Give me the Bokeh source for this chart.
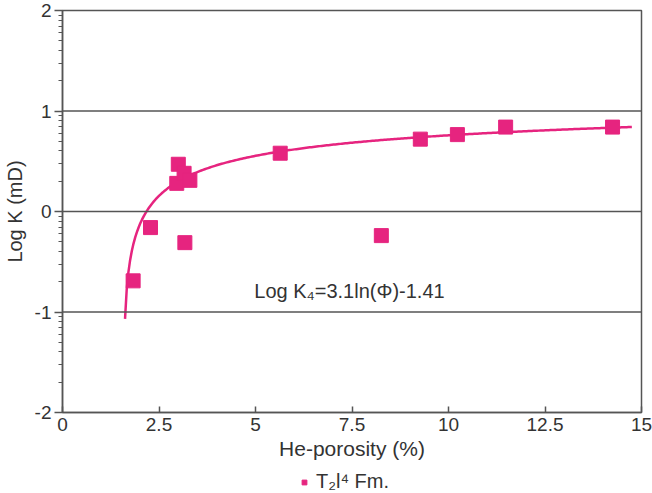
import numpy as np
from bokeh.plotting import figure
from bokeh.layouts import column
from bokeh.models import (Range1d, FixedTicker, Legend, LegendItem, Span, Label,
                          LinearAxis, ColumnDataSource)
from bokeh.embed import file_html
from bokeh.resources import INLINE

# data
porosity = [1.83, 2.28, 3.00, 2.96, 3.15, 3.30, 3.17, 5.64, 8.26, 9.27, 10.23, 11.48, 14.25]
log_k = [-0.69, -0.16, 0.47, 0.28, 0.38, 0.31, -0.31, 0.58, -0.24, 0.72, 0.765, 0.84, 0.84]
x_ticks = [0, 2.5, 5, 7.5, 10, 12.5, 15]
y_ticks = [-2, -1, 0, 1, 2]
y_tick_labels = ["-2", "-1", "0", "1", "2"]
x_tick_labels = ["0", "2.5", "5", "7.5", "10", "12.5", "15"]
grid_levels = [-1, 0, 1]
fit_a, fit_b = 3.1, -1.41   # K = a ln(phi) + b, plotted as log K
fit_x_start, fit_x_end = 1.62, 14.75
series_name = "T\u2082l\u2074 Fm."

COL = "#E6247F"
TXT = "#333333"
AX = "#555555"
FONT = "Liberation Sans"

FH = 402
TOP = 10
BOT = 58
LEFT = 62
p = figure(frame_width=579, frame_height=FH, output_backend="svg", toolbar_location=None,
           x_range=Range1d(0, 15), y_range=Range1d(-2, 2),
           min_border_left=LEFT, min_border_right=11, min_border_top=TOP,
           min_border_bottom=BOT,
           x_axis_location=None, y_axis_location=None)
p.grid.visible = False
p.outline_line_color = AX
p.outline_line_width = 1.5
p.background_fill_color = "white"
p.border_fill_color = "white"

# y minor ticks as in a log decade
minor_y = []
for d in [-2, -1, 0, 1]:
    minor_y += [d + np.log10(k) for k in range(2, 10)]

yax = LinearAxis(ticker=FixedTicker(ticks=y_ticks, minor_ticks=minor_y),
                 axis_label="Log K (mD)")
yax.major_label_overrides = {t: s for t, s in zip(y_ticks, y_tick_labels)}
yax.axis_line_color = AX
yax.axis_line_width = 1.5
yax.major_tick_line_color = AX
yax.minor_tick_line_color = AX
yax.major_tick_line_width = 1.5
yax.major_tick_out = 8
yax.major_tick_in = 0
yax.minor_tick_out = 4
yax.minor_tick_in = 0
yax.major_label_text_font = FONT
yax.major_label_text_font_size = "19px"
yax.major_label_text_color = TXT
yax.axis_label_text_font = FONT
yax.axis_label_text_font_size = "20px"
yax.axis_label_text_font_style = "normal"
yax.axis_label_text_color = TXT
yax.axis_label_standoff = 6
yax.major_label_standoff = 3
p.add_layout(yax, "left")

xax = LinearAxis(ticker=FixedTicker(ticks=x_ticks, minor_ticks=[]),
                 axis_label="He-porosity (%)")
xax.major_label_overrides = {t: s for t, s in zip(x_ticks, x_tick_labels)}
xax.axis_line_color = AX
xax.axis_line_width = 1.5
xax.major_tick_line_color = AX
xax.major_tick_line_width = 1.5
xax.major_tick_out = 0
xax.major_tick_in = 6
xax.major_label_text_font = FONT
xax.major_label_text_font_size = "19px"
xax.major_label_text_color = TXT
xax.axis_label_text_font = FONT
xax.axis_label_text_font_size = "21px"
xax.axis_label_text_font_style = "normal"
xax.axis_label_text_color = TXT
xax.axis_label_standoff = 3
xax.major_label_standoff = 5
p.add_layout(xax, "below")

for g in grid_levels:
    p.add_layout(Span(location=g, dimension="width", line_color=AX, line_width=1.5))

xs = np.linspace(fit_x_start, fit_x_end, 300)
ys = np.log10(fit_a * np.log(xs) + fit_b)
p.line(xs, ys, line_color=COL, line_width=2.5)

src = ColumnDataSource(dict(x=porosity, y=log_k))
p.scatter("x", "y", source=src, marker="square", size=14, fill_color=COL, line_color=COL)

p.add_layout(Label(x=287, y=FH - (290 - TOP), x_units="screen", y_units="screen",
                   text="Log K\u2084=3.1ln(\u03a6)-1.41", text_font=FONT,
                   text_font_size="20px", text_color=TXT, text_align="center",
                   text_baseline="middle"))

# legend row below the axis title
LH = 493 - (TOP + FH + BOT)
lf = figure(width=652, height=LH, output_backend="svg", toolbar_location=None,
            x_range=Range1d(0, 1), y_range=Range1d(0, 1),
            min_border=0, x_axis_location=None, y_axis_location=None)
lf.grid.visible = False
lf.outline_line_color = None
lf.border_fill_color = "white"
lr = lf.scatter(x=[-5], y=[-5], marker="square", size=12, fill_color=COL, line_color=COL)
leg = Legend(items=[LegendItem(label=series_name, renderers=[lr])],
             location=(298 - LEFT, 0), orientation="horizontal",
             border_line_color=None, background_fill_alpha=0,
             label_text_font=FONT, label_text_font_size="20px", label_text_color=TXT,
             glyph_width=12, glyph_height=12, padding=0, margin=0, spacing=0,
             label_standoff=6, label_height=LH)
lf.add_layout(leg, "center")

open("out.html", "w").write(file_html(column(p, lf, spacing=0), INLINE))
